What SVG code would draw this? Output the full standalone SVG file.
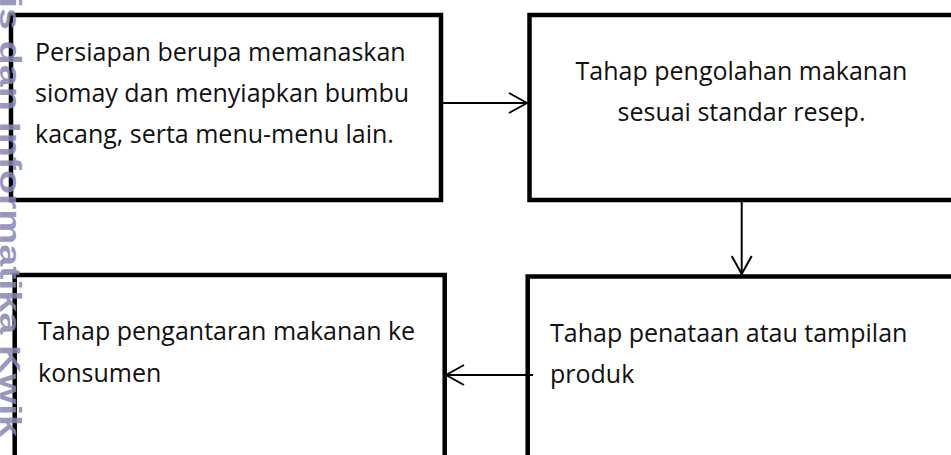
<svg xmlns="http://www.w3.org/2000/svg" width="951" height="455" viewBox="0 0 951 455">
  <style>
    .box { fill: #ffffff; stroke: #000000; stroke-width: 4.5; }
    .lbl { font-family: "Open Sans", "Noto Sans", "Liberation Sans", sans-serif; font-size: 25px; fill: #111111; }
    .mid { text-anchor: middle; }
    .conn { fill: none; stroke: #000000; stroke-width: 2; }
    .wm { font-family: "Liberation Sans", "DejaVu Sans", sans-serif; font-weight: bold; font-size: 30px; fill: #8587b2; }
  </style>
  <defs>
    <marker id="arrow" viewBox="0 0 20 22" refX="19" refY="11" markerWidth="20" markerHeight="22" markerUnits="userSpaceOnUse" orient="auto">
      <path d="M1,1 L19,11 L1,21" fill="none" stroke="#000000" stroke-width="2"/>
    </marker>
  </defs>
  <rect x="0" y="0" width="951" height="455" fill="#ffffff"/>

  <g id="node-persiapan">
    <rect class="box" x="11" y="15" width="430" height="185"/>
    <text class="lbl" x="35" y="61">Persiapan berupa memanaskan</text>
    <text class="lbl" x="35" y="102">siomay dan menyiapkan bumbu</text>
    <text class="lbl" x="35" y="143">kacang, serta menu-menu lain.</text>
  </g>

  <g id="node-pengolahan">
    <rect class="box" x="529.5" y="15" width="440" height="185"/>
    <text class="lbl mid" x="741.5" y="80">Tahap pengolahan makanan</text>
    <text class="lbl mid" x="741.5" y="121">sesuai standar resep.</text>
  </g>

  <g id="node-penataan">
    <rect class="box" x="527.7" y="276.5" width="440" height="200"/>
    <text class="lbl" x="550" y="342">Tahap penataan atau tampilan</text>
    <text class="lbl" x="550" y="383">produk</text>
  </g>

  <g id="node-pengantaran">
    <rect class="box" x="14.7" y="275" width="430" height="200"/>
    <text class="lbl" x="38" y="340">Tahap pengantaran makanan ke</text>
    <text class="lbl" x="38" y="382">konsumen</text>
  </g>

  <g id="connectors">
    <line class="conn" x1="443" y1="103" x2="527" y2="103" marker-end="url(#arrow)"/>
    <line class="conn" x1="741.7" y1="202" x2="741.7" y2="274" marker-end="url(#arrow)"/>
    <line class="conn" x1="533" y1="375" x2="446" y2="375" marker-end="url(#arrow)"/>
  </g>

  <g id="watermark" opacity="0.85">
    <text class="wm" transform="translate(0,-3) rotate(90)" textLength="440" lengthAdjust="spacingAndGlyphs">is dan Informatika Kwik</text>
  </g>
</svg>
